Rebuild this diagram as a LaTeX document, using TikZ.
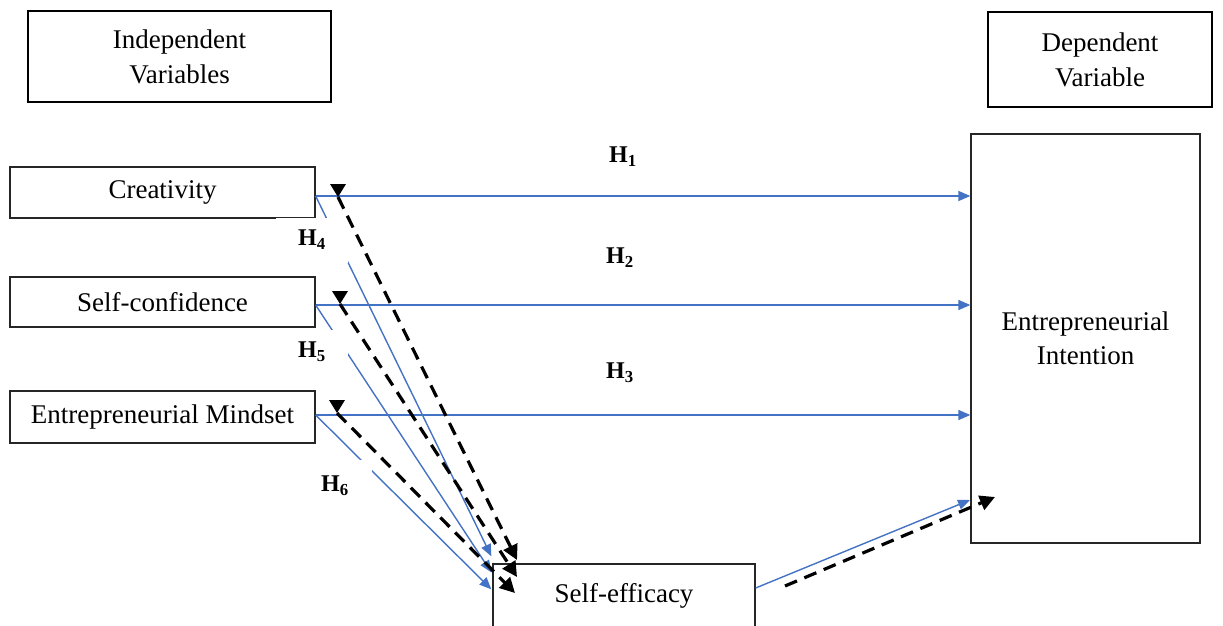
\documentclass[tikz,border=0pt]{standalone}
\usepackage{fontspec}
\setmainfont{Liberation Serif}
\usetikzlibrary{arrows.meta,calc}
\definecolor{wblue}{RGB}{68,114,196}
\begin{document}
\begin{tikzpicture}[x=1pt,y=-1pt,
 box/.style={draw=black!85,line width=1.3pt,inner sep=0pt,align=center,font=\fontsize{27}{34}\selectfont},
 headbox/.style={draw=black,line width=2.7pt,inner sep=0pt,align=center,font=\fontsize{27}{35}\selectfont},
 bluearrow/.style={draw=wblue,line width=1.4pt,-{Triangle[length=12pt,width=10pt]}},
 dasharrow/.style={draw=black,line width=3.2pt,dash pattern=on 13pt off 8pt,-{Triangle[length=15pt,width=15pt]}},
 hlabel/.style={font=\fontsize{24}{24}\selectfont\bfseries,inner sep=0pt},
 hmask/.style={hlabel,fill=white}]
\useasboundingbox (0,0) rectangle (1223,626);

% header boxes
\node[headbox,minimum width=303pt,minimum height=91pt] (iv) at (179.5,56.5) {Independent\\Variables};
\node[headbox,minimum width=224pt,minimum height=95pt] (dv) at (1100,59.5) {Dependent\\Variable};

% variable boxes
\node[box,minimum width=305pt,minimum height=51pt] (cre) at (162.5,192.5) {Creativity};
\node[box,minimum width=305pt,minimum height=50pt] (sc) at (162.5,302) {Self-confidence};
\node[box,minimum width=305pt,minimum height=52pt] (em) at (162.5,417) {Entrepreneurial Mindset};
\node[box,minimum width=229pt,minimum height=409pt] (ei) at (1085.5,338.5) {Entrepreneurial\\Intention};
\node[box,minimum width=262pt,minimum height=64pt] (se) at (624,596) {Self-efficacy};

% connection points
\coordinate (creE) at ([yshift=-3.5pt]cre.east);
\coordinate (scE) at ([yshift=-3pt]sc.east);
\coordinate (emE) at ([yshift=2pt]em.east);
\coordinate (seE) at ([yshift=8pt]se.east);
\coordinate (b1) at ([xshift=-1pt,yshift=7pt]se.north west);
\coordinate (b2) at ([xshift=-1pt,yshift=-9pt]se.north west);
\coordinate (b3) at ([xshift=-1pt,yshift=-26pt]se.north west);
\coordinate (eiIn) at (970,500);
\coordinate (d1s) at (338,197);
\coordinate (d2s) at (340,304);
\coordinate (d3s) at (337,413);
\coordinate (d1e) at (517,560);
\coordinate (d2e) at (517,577);
\coordinate (d3e) at (515,593);
\coordinate (d4s) at (785,586);
\coordinate (d4e) at (995,497);

% blue arrows
\draw[bluearrow] (creE) -- (ei.west |- creE);
\draw[bluearrow] (scE) -- (ei.west |- scE);
\draw[bluearrow] (emE) -- (ei.west |- emE);
\draw[bluearrow] (creE) -- (b1);
\draw[bluearrow] (scE) -- (b2);
\draw[bluearrow] (emE) -- (b3);
\draw[bluearrow] (seE) -- (eiIn);

% hypothesis labels
\node[hlabel] (h1) at (623,157) {H\textsubscript{1}};
\node[hlabel] (h2) at (620,258) {H\textsubscript{2}};
\node[hlabel] (h3) at (620,373) {H\textsubscript{3}};
\node[hmask,minimum width=72pt,minimum height=45pt] (h4) at (312,240) {H\textsubscript{4}};
\node[hmask,minimum width=72pt,minimum height=45pt] (h5) at (312,352) {H\textsubscript{5}};
\node[hmask,minimum width=74pt,minimum height=52pt] (h6) at (335,486) {H\textsubscript{6}};

% dashed arrows
\draw[dasharrow] (d1s) -- (d1e);
\draw[dasharrow] (d2s) -- (d2e);
\draw[dasharrow] (d3s) -- (d3e);
\draw[dasharrow] (d4s) -- (d4e);
\fill (d1s) -- ++(-8,-13) -- ++(16,0) -- cycle;
\fill (d2s) -- ++(-8,-13) -- ++(16,0) -- cycle;
\fill (d3s) -- ++(-8,-13) -- ++(16,0) -- cycle;
\end{tikzpicture}
\end{document}
